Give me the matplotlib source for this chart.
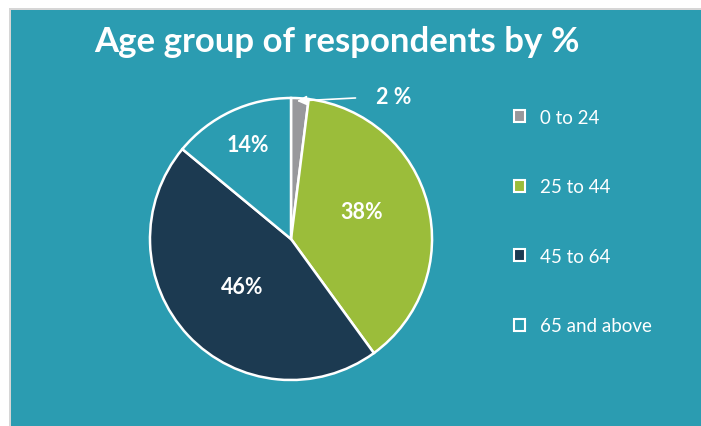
import matplotlib.pyplot as plt
from matplotlib.patches import Rectangle, Patch

# data
groups = ['0 to 24', '25 to 44', '45 to 64', '65 and above']
shares = [2, 38, 46, 14]
pct_labels = ['2 %', '38%', '46%', '14%']

BG = '#2b9cb1'
colors = ['#98989c', '#9bbd3a', '#1c3a51', BG]
explode = [0.03, 0.045, 0.015, 0.0]

plt.rcParams['font.family'] = ['Lato', 'DejaVu Sans']

W, H = 701, 427
fig = plt.figure(figsize=(W / 100, H / 100), dpi=100)
fig.patch.set_facecolor(BG)

# white margin with a thin grey frame on top/left only
fig.add_artist(Rectangle((0, 0), 9 / W, 1, transform=fig.transFigure,
                         facecolor='white', edgecolor='none'))
fig.add_artist(Rectangle((0, 1 - 9 / H), 1, 9 / H, transform=fig.transFigure,
                         facecolor='white', edgecolor='none'))
fig.add_artist(Rectangle((9 / W, 0), 2 / W, 1 - 9 / H, transform=fig.transFigure,
                         facecolor='#d6d6d6', edgecolor='none'))
fig.add_artist(Rectangle((9 / W, 1 - 11 / H), 1, 2 / H, transform=fig.transFigure,
                         facecolor='#d6d6d6', edgecolor='none'))

ax = fig.add_axes([0, 0, 1, 1])
ax.set_facecolor('none')

cx, cy, r = 291, H - 240, 141
wedges, _ = ax.pie(shares, colors=colors, explode=explode, startangle=90,
                   counterclock=False, center=(cx, cy), radius=r, frame=True,
                   wedgeprops=dict(edgecolor='white', linewidth=1.8))
ax.set_xlim(0, W)
ax.set_ylim(0, H)
ax.set_aspect('equal')
ax.axis('off')

# percentage labels inside slices
label_pos = [None, (362, H - 213), (242, H - 288), (248, H - 146)]
for lab, pos in zip(pct_labels[1:], label_pos[1:]):
    ax.text(pos[0], pos[1], lab, color='white', fontsize=15.5,
            fontweight='bold', ha='center', va='center')

# small slice label with a leader arrow
ax.annotate(pct_labels[0], xy=(297, H - 102), xytext=(394, H - 97),
            color='white', fontsize=15.5, fontweight='bold',
            ha='center', va='center',
            arrowprops=dict(arrowstyle='-|>', color='white', lw=1.2,
                            shrinkA=13, shrinkB=0, mutation_scale=14))

ax.text(337, H - 42, 'Age group of respondents by %', color='white',
        fontsize=25, fontweight='bold', ha='center', va='center')

handles = [Patch(facecolor=c, edgecolor='white', linewidth=1.5) for c in colors]
leg = ax.legend(handles, groups, loc='upper left',
                bbox_to_anchor=(497 / W, 1 - 93 / H),
                frameon=False, fontsize=13.5, labelcolor='white',
                handlelength=0.6, handleheight=0.6, handletextpad=0.8,
                labelspacing=2.8)

fig.savefig('out.png', dpi=100, facecolor=fig.get_facecolor())
